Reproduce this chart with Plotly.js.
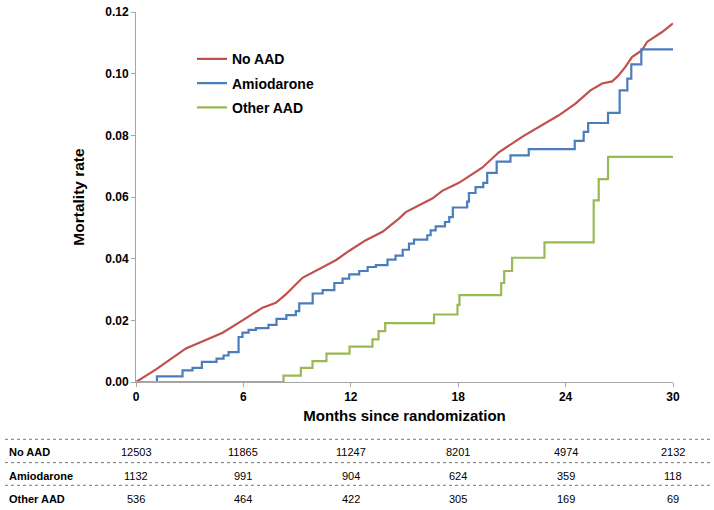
<!DOCTYPE html>
<html>
<head>
<meta charset="utf-8">
<script src="https://cdn.plot.ly/plotly-3.0.1.min.js"></script>
<style>html,body{margin:0;padding:0;background:#fff;}#chart{width:714px;height:510px;}</style>
</head>
<body>
<div id="chart"></div>
<script>
// ---- data ----
const seriesNames = ["No AAD", "Amiodarone", "Other AAD"];

const noAadMonths = [0, 1.12, 2.79, 3.9, 4.84, 5.95, 7.07, 7.81, 8.37, 9.3, 10.05, 11.16, 11.9, 12.84, 13.77, 14.69, 15.07, 16.0, 16.55, 17.11, 18.04, 19.34, 20.27, 21.57, 22.69, 23.62, 24.55, 25.39, 26.04, 26.6, 26.97, 27.34, 27.71, 28.27, 28.55, 29.39, 30];
const noAadRate   = [0, 0.0041, 0.0109, 0.0138, 0.016, 0.020, 0.0241, 0.0257, 0.0284, 0.0338, 0.036, 0.0395, 0.0425, 0.046, 0.0487, 0.053, 0.0551, 0.0579, 0.0595, 0.062, 0.0646, 0.0695, 0.0745, 0.0795, 0.0833, 0.0865, 0.0903, 0.0946, 0.0968, 0.0975, 0.0995, 0.1022, 0.1054, 0.1076, 0.1103, 0.1135, 0.1163];

const amioMonths = [0, 1.17, 2.6, 3.16, 3.68, 4.5, 4.89, 5.17, 5.73, 5.95, 6.29, 6.7, 7.4, 7.85, 8.4, 8.93, 9.12, 9.87, 10.43, 11.08, 11.54, 11.91, 12.47, 12.94, 13.4, 14.05, 14.5, 14.9, 15.25, 15.53, 16.27, 16.46, 16.74, 17.26, 17.5, 17.7, 18.5, 18.6, 18.97, 19.4, 19.62, 20.15, 20.92, 21.94, 24.51, 25.01, 25.26, 26.37, 27.02, 27.45, 27.67, 28.23, 30];
const amioRate   = [0, 0.0018, 0.0038, 0.0046, 0.0065, 0.0076, 0.0086, 0.0097, 0.0146, 0.016, 0.0169, 0.0175, 0.0185, 0.0205, 0.0217, 0.023, 0.0255, 0.0287, 0.0298, 0.0321, 0.0335, 0.0349, 0.036, 0.0373, 0.0379, 0.0397, 0.041, 0.0429, 0.0449, 0.0462, 0.0476, 0.0492, 0.0505, 0.0519, 0.0535, 0.0566, 0.0585, 0.0613, 0.0632, 0.0646, 0.0678, 0.0715, 0.0735, 0.0755, 0.0782, 0.0811, 0.084, 0.0873, 0.0946, 0.0984, 0.103, 0.1079, 0.1079];

const otherMonths = [0, 8.24, 9.21, 9.86, 10.64, 11.93, 13.21, 13.55, 13.92, 16.65, 17.96, 18.07, 20.4, 20.57, 21.01, 22.82, 25.57, 25.85, 26.37, 30];
const otherRate   = [0, 0.0021, 0.0046, 0.0068, 0.0092, 0.0115, 0.0138, 0.0165, 0.0191, 0.0219, 0.025, 0.0282, 0.0321, 0.036, 0.0403, 0.0453, 0.0589, 0.0658, 0.073, 0.073];

const xTicks = [0, 6, 12, 18, 24, 30];
const yTicks = [0, 0.02, 0.04, 0.06, 0.08, 0.10, 0.12];

const tableRowLabels = ["No AAD", "Amiodarone", "Other AAD"];
const atRiskNoAad = [12503, 11865, 11247, 8201, 4974, 2132];
const atRiskAmio  = [1132, 991, 904, 624, 359, 118];
const atRiskOther = [536, 464, 422, 305, 169, 69];

// ---- styling ----
const FONT = "Liberation Sans, Arial, sans-serif";
const colors = ["#C0504D", "#4A7EBB", "#98B954"];

const traces = [
  {x: noAadMonths, y: noAadRate, shape: "linear"},
  {x: amioMonths, y: amioRate, shape: "hv"},
  {x: otherMonths, y: otherRate, shape: "hv"}
].map((d, i) => ({
  type: "scatter", mode: "lines",
  x: d.x, y: d.y, name: seriesNames[i], legendgroup: "g" + i,
  line: {color: colors[i], width: 2.2, shape: d.shape},
  hoverinfo: "skip"
}));

// plot area in pixels: x 136..673, y 11.7..381.7
const L = 136, R = 673, T = 11.7, B = 381.7;
const W = R - L, H = B - T;
const px = p => (p - L) / W;
const py = q => (B - q) / H;

const shapes = [];
[439, 462.3, 485].forEach(q => {
  shapes.push({type: "line", xref: "paper", yref: "paper",
    x0: px(5), x1: px(710), y0: py(q), y1: py(q),
    line: {color: "#777", width: 1, dash: "dot"}});
});

const annotations = [];
const rowsY = [451.7, 475.7, 498.3];
const rowsData = [atRiskNoAad, atRiskAmio, atRiskOther];
tableRowLabels.forEach((lab, r) => {
  annotations.push({xref: "paper", yref: "paper", x: px(7), y: py(rowsY[r]),
    xanchor: "left", yanchor: "middle", showarrow: false, text: lab,
    font: {family: FONT, size: 11, weight: "bold", color: "#000"}});
  rowsData[r].forEach((v, c) => {
    annotations.push({xref: "x", yref: "paper", x: xTicks[c], y: py(rowsY[r]),
      xanchor: "center", yanchor: "middle", showarrow: false, text: String(v),
      font: {family: FONT, size: 11, color: "#000"}});
  });
});

const layout = {
  width: 714, height: 510,
  margin: {l: L, r: 714 - R, t: T, b: 510 - B, pad: 0},
  paper_bgcolor: "#fff", plot_bgcolor: "#fff",
  showlegend: true,
  legend: {x: px(192), y: py(43), xanchor: "left", yanchor: "top",
    traceorder: "grouped", tracegroupgap: 3,
    bgcolor: "rgba(0,0,0,0)", borderwidth: 0,
    font: {family: FONT, size: 14, weight: "bold", color: "#000"}},
  xaxis: {
    range: [0, 30], tickvals: xTicks, ticktext: xTicks.map(String),
    showgrid: false, zeroline: false, showline: true, linecolor: "#A6A6A6", linewidth: 1,
    ticks: "outside", ticklen: 4, tickcolor: "#A6A6A6",
    tickfont: {family: FONT, size: 12, weight: "bold", color: "#000"},
    title: {text: "Months since randomization", standoff: 7,
      font: {family: FONT, size: 15, weight: "bold", color: "#000"}},
    fixedrange: true
  },
  yaxis: {
    range: [0, 0.12], tickvals: yTicks, ticktext: yTicks.map(v => v.toFixed(2)),
    showgrid: false, zeroline: false, showline: true, linecolor: "#A6A6A6", linewidth: 1,
    ticks: "outside", ticklen: 4, tickcolor: "#A6A6A6",
    tickfont: {family: FONT, size: 12, weight: "bold", color: "#000"},
    title: {text: "Mortality rate", standoff: 16,
      font: {family: FONT, size: 15.5, weight: "bold", color: "#000"}},
    fixedrange: true
  },
  shapes: shapes,
  annotations: annotations
};

Plotly.newPlot("chart", traces, layout, {staticPlot: true, displayModeBar: false});
</script>
</body>
</html>
